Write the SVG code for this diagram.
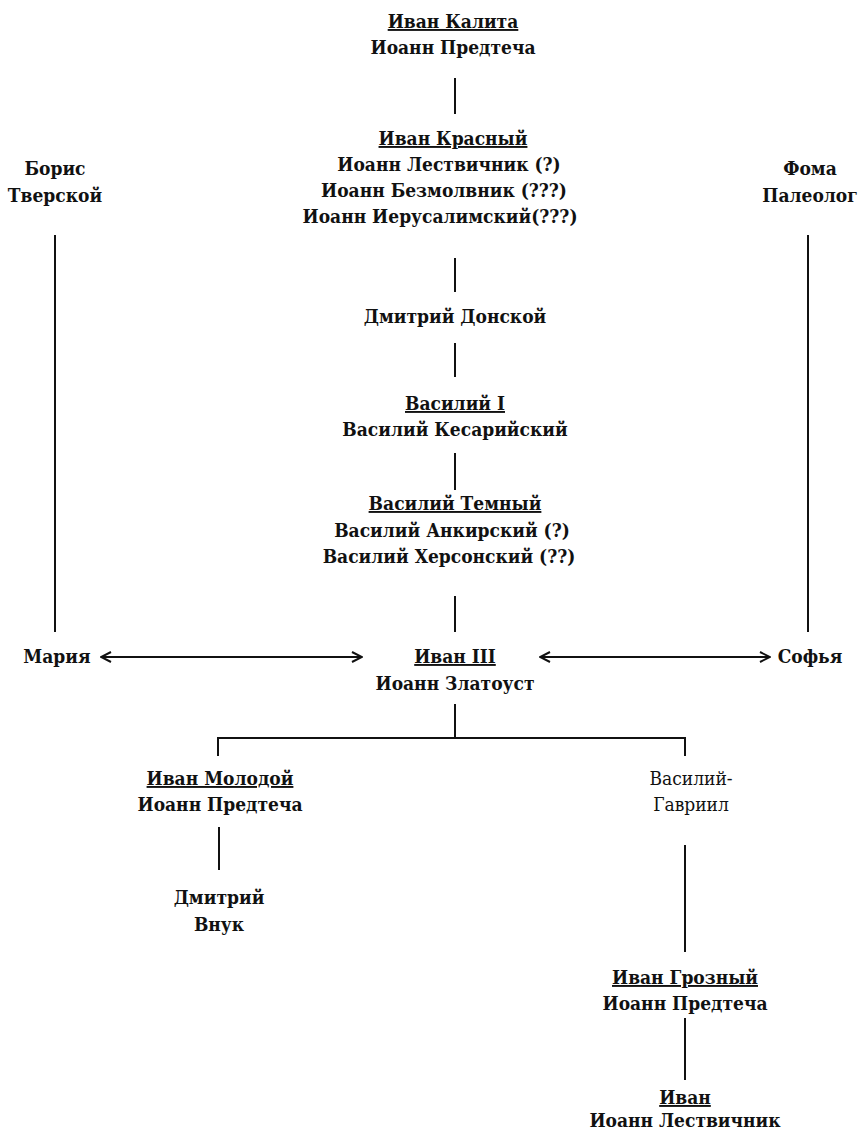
<svg xmlns="http://www.w3.org/2000/svg" width="859" height="1131" viewBox="0 0 859 1131">
<style>
text{font-family:"DejaVu Serif",serif;font-stretch:condensed;font-size:19px;font-weight:bold;fill:#111;text-anchor:middle}
.u{text-decoration:underline}
.n{font-weight:normal}
.c line,.c path{stroke:#111;stroke-width:2;fill:none}
</style>
<defs>
<marker id="ah" viewBox="0 0 12 12" refX="11" refY="6" markerWidth="12" markerHeight="12" markerUnits="userSpaceOnUse" orient="auto-start-reverse">
<path d="M1,1 L11,6 L1,11" fill="none" stroke="#111" stroke-width="2"/>
</marker>
</defs>
<rect width="859" height="1131" fill="#fff"/>
<g class="c" id="connectors">
<line x1="455" y1="78" x2="455" y2="114"/>
<line x1="455" y1="258" x2="455" y2="292"/>
<line x1="455" y1="343" x2="455" y2="377"/>
<line x1="455" y1="453" x2="455" y2="490"/>
<line x1="455" y1="596" x2="455" y2="632"/>
<line x1="55" y1="235" x2="55" y2="632"/>
<line x1="808" y1="235" x2="808" y2="632"/>
<line x1="101" y1="657" x2="362" y2="657" marker-start="url(#ah)" marker-end="url(#ah)"/>
<line x1="540" y1="657" x2="770" y2="657" marker-start="url(#ah)" marker-end="url(#ah)"/>
<line x1="455" y1="704" x2="455" y2="738"/>
<path d="M218,756 V738 H685 V756"/>
<line x1="219" y1="827" x2="219" y2="870"/>
<line x1="685" y1="845" x2="685" y2="952"/>
<line x1="685" y1="1018" x2="685" y2="1080"/>
</g>
<g id="kalita"><text x="453" y="28" class="u">Иван Калита</text><text x="453" y="54">Иоанн Предтеча</text></g>
<g id="krasny"><text x="453" y="145" class="u">Иван Красный</text><text x="449" y="171">Иоанн Лествичник (?)</text><text x="444" y="197">Иоанн Безмолвник (???)</text><text x="440" y="223">Иоанн Иерусалимский(???)</text></g>
<g id="donskoy"><text x="455" y="323">Дмитрий Донской</text></g>
<g id="vasily1"><text x="455" y="410" class="u">Василий I</text><text x="455" y="436">Василий Кесарийский</text></g>
<g id="temny"><text x="455" y="510" class="u">Василий Темный</text><text x="452" y="537">Василий Анкирский (?)</text><text x="449" y="563">Василий Херсонский (??)</text></g>
<g id="boris"><text x="55" y="175">Борис</text><text x="55" y="202">Тверской</text></g>
<g id="foma"><text x="810" y="175">Фома</text><text x="810" y="202">Палеолог</text></g>
<g id="maria"><text x="57" y="663">Мария</text></g>
<g id="ivan3"><text x="455" y="663" class="u">Иван III</text><text x="455" y="690">Иоанн Златоуст</text></g>
<g id="sofya"><text x="810" y="663">Софья</text></g>
<g id="molodoy"><text x="220" y="785" class="u">Иван Молодой</text><text x="220" y="811">Иоанн Предтеча</text></g>
<g id="dmitry"><text x="219" y="904">Дмитрий</text><text x="219" y="931">Внук</text></g>
<g id="gavriil"><text x="691" y="785" class="n">Василий-</text><text x="691" y="811" class="n">Гавриил</text></g>
<g id="grozny"><text x="685" y="984" class="u">Иван Грозный</text><text x="685" y="1010">Иоанн Предтеча</text></g>
<g id="ivan"><text x="685" y="1104" class="u">Иван</text><text x="685" y="1127">Иоанн Лествичник</text></g>
</svg>
